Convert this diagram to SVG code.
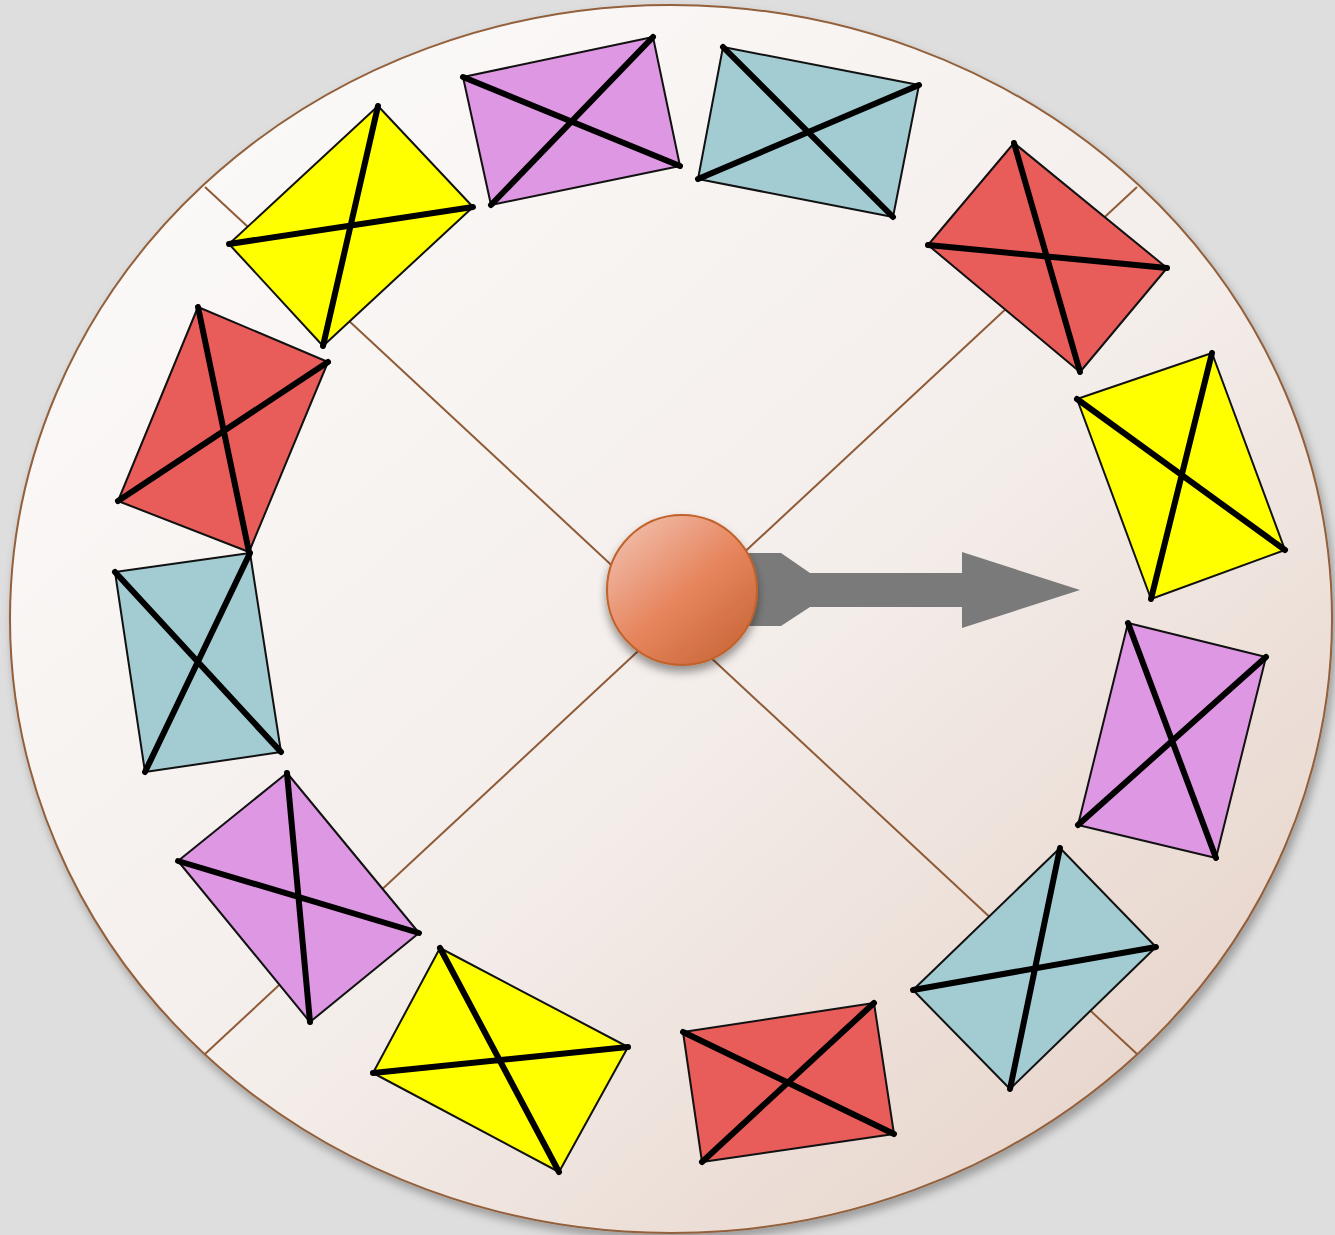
<svg xmlns="http://www.w3.org/2000/svg" width="1335" height="1235" viewBox="0 0 1335 1235">
<defs>
<linearGradient id="wheelGrad" x1="0.15" y1="0.1" x2="0.95" y2="0.95">
<stop offset="0" stop-color="#fbf9f8"/>
<stop offset="0.5" stop-color="#f4eeeb"/>
<stop offset="1" stop-color="#e5d1c6"/>
</linearGradient>
<linearGradient id="hubGrad" x1="0.15" y1="0.1" x2="0.9" y2="0.95">
<stop offset="0" stop-color="#f0b8a4"/>
<stop offset="0.5" stop-color="#e6845c"/>
<stop offset="1" stop-color="#c86638"/>
</linearGradient>
<filter id="shadow" x="-10%" y="-10%" width="120%" height="120%">
<feDropShadow dx="3" dy="6" stdDeviation="5" flood-color="#000" flood-opacity="0.3"/>
</filter>
<filter id="hubShadow" x="-30%" y="-30%" width="160%" height="160%">
<feDropShadow dx="0" dy="6" stdDeviation="5" flood-color="#000" flood-opacity="0.4"/>
</filter>
</defs>
<style>
.card{stroke:#111;stroke-width:2;stroke-linejoin:round}
.x{stroke:#000;stroke-width:6;stroke-linecap:round;fill:none}
.spoke{stroke:#8f5a36;stroke-width:2;fill:none}
.y{fill:#ffff00}.v{fill:#de97e2}.b{fill:#a3cbd2}.r{fill:#e85c5a}
</style>
<rect x="0" y="0" width="1335" height="1235" fill="#dedede"/>
<g id="wheel">
<ellipse cx="671" cy="619" rx="661" ry="614" fill="url(#wheelGrad)" stroke="#93603a" stroke-width="2" filter="url(#shadow)"/>
</g>
<g id="spokes">
<line class="spoke" x1="205" y1="187" x2="1137" y2="1054"/>
<line class="spoke" x1="1137" y1="187" x2="205" y2="1054"/>
</g>
<g id="card1"><polygon class="card y" points="378,106 473,207 323,346 229,244"/><path class="x" d="M378,106 L323,346 M473,207 L229,244"/></g>
<g id="card2"><polygon class="card v" points="463,77 653,37 680,166 491,205"/><path class="x" d="M463,77 L680,166 M653,37 L491,205"/></g>
<g id="card3"><polygon class="card b" points="723,47 919,85 893,217 698,179"/><path class="x" d="M723,47 L893,217 M919,85 L698,179"/></g>
<g id="card4"><polygon class="card r" points="1014,143 1167,268 1080,372 928,245"/><path class="x" d="M1014,143 L1080,372 M1167,268 L928,245"/></g>
<g id="card5"><polygon class="card y" points="1212,353 1285,550 1151,599 1077,399"/><path class="x" d="M1212,353 L1151,599 M1285,550 L1077,399"/></g>
<g id="card6"><polygon class="card v" points="1128,623 1266,657 1216,858 1078,825"/><path class="x" d="M1128,623 L1216,858 M1266,657 L1078,825"/></g>
<g id="card7"><polygon class="card b" points="1060,848 1156,947 1010,1089 913,990"/><path class="x" d="M1060,848 L1010,1089 M1156,947 L913,990"/></g>
<g id="card8"><polygon class="card r" points="683,1032 874,1003 894,1134 702,1162"/><path class="x" d="M683,1032 L894,1134 M874,1003 L702,1162"/></g>
<g id="card9"><polygon class="card y" points="440,948 628,1047 559,1172 373,1073"/><path class="x" d="M440,948 L559,1172 M628,1047 L373,1073"/></g>
<g id="card10"><polygon class="card v" points="287,773 419,933 310,1022 178,861"/><path class="x" d="M287,773 L310,1022 M419,933 L178,861"/></g>
<g id="card11"><polygon class="card b" points="115,572 250,553 281,752 145,772"/><path class="x" d="M115,572 L281,752 M250,553 L145,772"/></g>
<g id="card12"><polygon class="card r" points="198,307 328,362 249,552 118,501"/><path class="x" d="M198,307 L249,552 M328,362 L118,501"/></g>
<g id="pointer">
<polygon fill="#7a7a7a" points="740,553 781,553 810,573 962,573 962,552 1080,590 962,628 962,607 810,607 781,626 740,626"/>
</g>
<g id="hub">
<circle cx="682" cy="590" r="75" fill="url(#hubGrad)" stroke="#c0622a" stroke-width="2" filter="url(#hubShadow)"/>
</g>
</svg>
